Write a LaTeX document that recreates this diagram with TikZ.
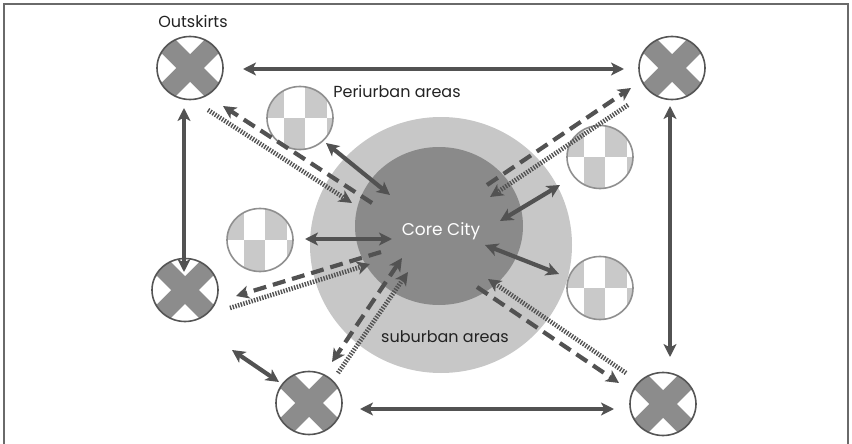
\documentclass[tikz,border=0pt]{standalone}
\usepackage{fontspec}
\setmainfont{Poppins}
\usetikzlibrary{arrows.meta,calc,shapes.geometric}
\definecolor{arr}{HTML}{525252}
\definecolor{cdark}{HTML}{8c8c8c}
\definecolor{cborder}{HTML}{555555}
\definecolor{clight}{HTML}{c9c9c9}
\definecolor{clborder}{HTML}{8f8f8f}
\definecolor{coreC}{HTML}{8a8a8a}
\definecolor{periC}{HTML}{c7c7c7}
\definecolor{frameC}{HTML}{6a6a6a}
\definecolor{txt}{HTML}{222222}
\tikzset{
  tipS/.tip={Stealth[length=13pt,width=13pt,inset=3.5pt]},
  outerc/.style={ellipse, minimum width=66pt, minimum height=63pt, inner sep=0pt, draw=cborder, line width=1.6pt, fill=cdark,
    path picture={
      \foreach \dx/\dy in {0/1,1/0,0/-1,-1/0}{
        \fill[white] ($(path picture bounding box.center)+(\dx*28pt,\dy*28pt)$)
          +(0pt,14pt) -- +(14pt,0pt) -- +(0pt,-14pt) -- +(-14pt,0pt) -- cycle;
      }
    }},
  innerc/.style={ellipse, minimum width=66pt, minimum height=63pt, inner sep=0pt, draw=clborder, line width=1.6pt, fill=white,
    path picture={
      \coordinate (pc) at (path picture bounding box.center);
      \fill[clight] ($(pc)+(-40pt,0pt)$) rectangle ($(pc)+(-16pt,40pt)$);
      \fill[clight] ($(pc)+(5pt,0pt)$) rectangle ($(pc)+(27pt,40pt)$);
      \fill[clight] ($(pc)+(-16pt,-40pt)$) rectangle ($(pc)+(5pt,0pt)$);
      \fill[clight] ($(pc)+(27pt,-40pt)$) rectangle ($(pc)+(40pt,0pt)$);
    }},
  solidarr/.style={draw=arr, line width=4.2pt, tipS-tipS},
  dasharr/.style={draw=arr, line width=4.2pt, dash pattern=on 13pt off 7pt, -tipS},
  dasharrboth/.style={draw=arr, line width=4.2pt, dash pattern=on 13pt off 7pt, tipS-tipS},
  dotarr/.style={draw=arr, line width=4.6pt, dash pattern=on 1.4pt off 1.4pt, -tipS},
  lbl/.style={font=\fontsize{16}{18}\selectfont, inner sep=1pt, text=txt},
}
\begin{document}
\begin{tikzpicture}[x=1pt,y=-1pt]
\useasboundingbox (0,0) rectangle (852,444);
% frame
\draw[frameC, line width=1.5pt] (4,446) -- (4,4) -- (848,4) -- (848,446);

% big areas
\node[ellipse, fill=periC, minimum width=262pt, minimum height=256pt, inner sep=0pt] (peri) at (441,245) {};
\node[ellipse, fill=coreC, minimum width=168pt, minimum height=158pt, inner sep=0pt] (core) at (439,226) {};

% outer settlements
\node[outerc] (o1) at (190,68) {};
\node[outerc] (o2) at (672,68) {};
\node[outerc] (o3) at (185,290) {};
\node[outerc] (o4) at (309,403) {};
\node[outerc] (o5) at (663,404) {};

% periurban settlements
\node[innerc] (i1) at (300,118) {};
\node[innerc] (i2) at (260,240) {};
\node[innerc] (i3) at (600,157) {};
\node[innerc] (i4) at (600,288) {};

% labels
\node[lbl] (lout) at (193,21) {Outskirts};
\node[lbl] (lperi) at (397,91) {Periurban areas};
\node[lbl, text=white, font=\fontsize{17}{19}\selectfont] (lcore) at (441,231) {Core City};
\node[lbl] (lsub) at (445,337) {suburban areas};

% endpoint coordinates
\coordinate (a1s) at (243,69); \coordinate (a1e) at (624,69);
\coordinate (a2s) at (184,108); \coordinate (a2e) at (184,272);
\coordinate (a3s) at (670,106); \coordinate (a3e) at (670,357);
\coordinate (a4s) at (360,409); \coordinate (a4e) at (614,409);
\coordinate (a5s) at (232,350); \coordinate (a5e) at (279,382);
\coordinate (a6s) at (326,143); \coordinate (a6e) at (390,195);
\coordinate (a7s) at (305,239); \coordinate (a7e) at (392,239);
\coordinate (a8s) at (560,185); \coordinate (a8e) at (500,221);
\coordinate (a9s) at (485,245); \coordinate (a9e) at (559,274);
% TL pair
\coordinate (d1s) at (372,203); \coordinate (d1e) at (223,106);
\coordinate (p1s) at (208,110); \coordinate (p1e) at (352,203);
% TR pair
\coordinate (d2s) at (487,185); \coordinate (d2e) at (631,88);
\coordinate (p2s) at (628,105); \coordinate (p2e) at (490,197);
% left-mid pair
\coordinate (d3s) at (381,252); \coordinate (d3e) at (236,296);
\coordinate (p3s) at (230,308); \coordinate (p3e) at (370,264);
% BL pair
\coordinate (d4s) at (402,258); \coordinate (d4e) at (332,362);
\coordinate (p4s) at (338,373); \coordinate (p4e) at (408,272);
% BR pair
\coordinate (d5s) at (477,287); \coordinate (d5e) at (619,383);
\coordinate (p5s) at (626,373); \coordinate (p5e) at (488,279);

% dashed / dotted flows
\draw[dasharr] (d1s) -- (d1e);
\draw[dotarr] (p1s) -- (p1e);
\draw[dasharr] (d2s) -- (d2e);
\draw[dotarr] (p2s) -- (p2e);
\draw[dasharr] (d3s) -- (d3e);
\draw[dotarr] (p3s) -- (p3e);
\draw[dasharrboth] (d4s) -- (d4e);
\draw[dotarr] (p4s) -- (p4e);
\draw[dasharr] (d5s) -- (d5e);
\draw[dotarr] (p5s) -- (p5e);

% solid exchanges
\draw[solidarr] (a1s) -- (a1e);
\draw[solidarr] (a2s) -- (a2e);
\draw[solidarr] (a3s) -- (a3e);
\draw[solidarr] (a4s) -- (a4e);
\draw[solidarr] (a5s) -- (a5e);
\draw[solidarr] (a6s) -- (a6e);
\draw[solidarr] (a7s) -- (a7e);
\draw[solidarr] (a8s) -- (a8e);
\draw[solidarr] (a9s) -- (a9e);
\end{tikzpicture}
\end{document}
